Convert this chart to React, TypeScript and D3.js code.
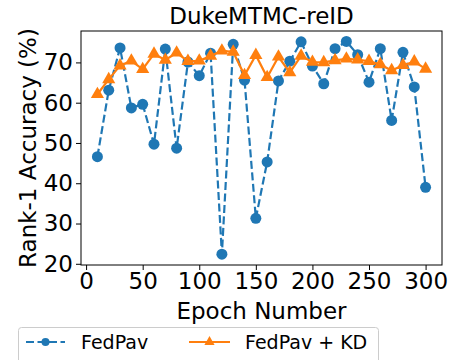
import React, { useEffect, useRef } from 'react';
import * as d3 from 'd3';

const epochs = [10, 20, 30, 40, 50, 60, 70, 80, 90, 100, 110, 120, 130, 140, 150, 160, 170, 180, 190, 200, 210, 220, 230, 240, 250, 260, 270, 280, 290, 300];
const fedPav = [46.6, 63.1, 73.6, 58.7, 59.6, 49.7, 73.3, 48.7, 70.1, 66.7, 72.3, 22.4, 74.5, 65.6, 31.3, 45.3, 65.4, 70.3, 75.1, 69.1, 64.7, 73.4, 75.2, 71.9, 65.1, 73.4, 55.6, 72.5, 63.9, 39.0];
const fedPavKD = [62.1, 65.8, 69.2, 70.4, 68.3, 72.1, 70.6, 72.4, 70.3, 70.4, 71.6, 72.9, 72.6, 66.8, 71.8, 66.3, 71.4, 67.5, 71.6, 70.1, 70.0, 70.5, 70.9, 70.7, 70.3, 69.5, 68.0, 69.3, 70.2, 68.4];
const xTicks = [0, 50, 100, 150, 200, 250, 300];
const yTicks = [20, 30, 40, 50, 60, 70];
const seriesNames = ['FedPav', 'FedPav + KD'];

const BLUE = '#1f77b4';
const ORANGE = '#ff7f0e';
const FONT = 'DejaVu Sans';

const App = () => {
  const ref = useRef<SVGSVGElement>(null);

  useEffect(() => {
    const svg = d3.select(ref.current);
    svg.selectAll('*').remove();

    const left = 81;
    const right = 442;
    const top = 31;
    const bottom = 265;

    const x = d3.scaleLinear().domain([-4.5, 314.5]).range([left, right]);
    const y = d3.scaleLinear().domain([19.7, 77.8]).range([bottom, top]);

    // title
    svg
      .append('text')
      .attr('x', (left + right) / 2)
      .attr('y', 24)
      .attr('text-anchor', 'middle')
      .style('font-family', FONT)
      .style('font-size', '23px')
      .text('DukeMTMC-reID');

    // axes
    const gx = svg
      .append('g')
      .attr('transform', `translate(0, ${bottom})`)
      .call(d3.axisBottom(x).tickValues(xTicks).tickSize(5).tickPadding(3).tickSizeOuter(0));
    const gy = svg
      .append('g')
      .attr('transform', `translate(${left}, 0)`)
      .call(d3.axisLeft(y).tickValues(yTicks).tickSize(5).tickPadding(3).tickSizeOuter(0));
    [gx, gy].forEach((g) => {
      g.select('.domain').remove();
      g.selectAll('text').style('font-family', FONT).style('font-size', '23px').attr('fill', '#000');
      g.selectAll('line').attr('stroke', '#000').attr('stroke-width', 1);
    });

    // frame
    svg
      .append('rect')
      .attr('x', left)
      .attr('y', top)
      .attr('width', right - left)
      .attr('height', bottom - top)
      .attr('fill', 'none')
      .attr('stroke', '#000')
      .attr('stroke-width', 1);

    // axis labels
    svg
      .append('text')
      .attr('x', (left + right) / 2)
      .attr('y', 319)
      .attr('text-anchor', 'middle')
      .style('font-family', FONT)
      .style('font-size', '23px')
      .text('Epoch Number');

    svg
      .append('text')
      .attr('text-anchor', 'middle')
      .attr('transform', `translate(36, ${(top + bottom) / 2}) rotate(-90)`)
      .style('font-family', FONT)
      .style('font-size', '23px')
      .text('Rank-1 Accuracy (%)');

    // series
    const line = d3
      .line<number>()
      .x((_, i) => x(epochs[i]))
      .y((d) => y(d));

    const plot = svg.append('g');

    plot
      .append('path')
      .datum(fedPav)
      .attr('d', line)
      .attr('fill', 'none')
      .attr('stroke', BLUE)
      .attr('stroke-width', 2.2)
      .attr('stroke-dasharray', '8,3.5');
    plot
      .selectAll('.dot')
      .data(fedPav)
      .enter()
      .append('circle')
      .attr('cx', (_, i) => x(epochs[i]))
      .attr('cy', (d) => y(d))
      .attr('r', 5.5)
      .attr('fill', BLUE);

    const tri = d3.symbol().type(d3.symbolTriangle).size(75);
    plot
      .append('path')
      .datum(fedPavKD)
      .attr('d', line)
      .attr('fill', 'none')
      .attr('stroke', ORANGE)
      .attr('stroke-width', 2.2);
    plot
      .selectAll('.tri')
      .data(fedPavKD)
      .enter()
      .append('path')
      .attr('d', tri)
      .attr('transform', (d, i) => `translate(${x(epochs[i])}, ${y(d)})`)
      .attr('fill', ORANGE);

    // legend
    const lg = svg.append('g');
    lg.append('rect')
      .attr('x', 18.5)
      .attr('y', 327.5)
      .attr('width', 360)
      .attr('height', 40)
      .attr('rx', 3)
      .attr('fill', '#fff')
      .attr('stroke', '#ccc');

    const ly = 342;
    lg.append('line')
      .attr('x1', 26).attr('x2', 65).attr('y1', ly).attr('y2', ly)
      .attr('stroke', BLUE).attr('stroke-width', 2.2).attr('stroke-dasharray', '8,3.5');
    lg.append('circle').attr('cx', 45.5).attr('cy', ly).attr('r', 4).attr('fill', BLUE);
    lg.append('text')
      .attr('x', 81).attr('y', ly + 7)
      .style('font-family', FONT).style('font-size', '19px')
      .text(seriesNames[0]);

    lg.append('line')
      .attr('x1', 189).attr('x2', 230).attr('y1', ly).attr('y2', ly)
      .attr('stroke', ORANGE).attr('stroke-width', 2.2);
    lg.append('path')
      .attr('d', d3.symbol().type(d3.symbolTriangle).size(45)())
      .attr('transform', `translate(209.5, ${ly})`)
      .attr('fill', ORANGE);
    lg.append('text')
      .attr('x', 245).attr('y', ly + 7)
      .style('font-family', FONT).style('font-size', '19px')
      .text(seriesNames[1]);
  }, []);

  return (
    <svg
      ref={ref}
      width={454}
      height={360}
      style={{ position: 'absolute', left: 0, top: 0, background: '#fff' }}
    />
  );
};

export default App;
